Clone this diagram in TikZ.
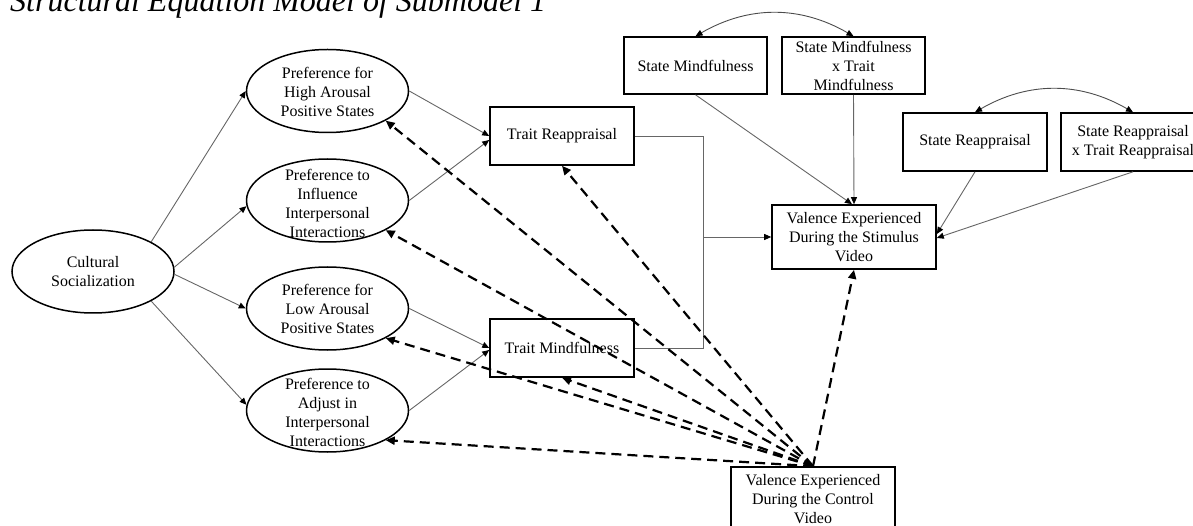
\documentclass[tikz,border=0pt]{standalone}
\usepackage{fontspec}
\setmainfont{Liberation Serif}
\usetikzlibrary{arrows.meta,shapes.geometric,calc}
\begin{document}
\begin{tikzpicture}[x=1pt,y=-1pt,
  txtfont/.style={font=\fontsize{16}{19}\selectfont},
  box/.style={draw, line width=1.6pt, minimum width=144pt, minimum height=58pt, inner sep=0pt, align=center, txtfont},
  ell/.style={draw, ellipse, line width=1.5pt, minimum width=162pt, minimum height=83pt, inner sep=0pt},
  etxt/.style={align=center, inner sep=0pt, txtfont},
  thinline/.style={draw=black!60, line width=0.9pt},
  conn/.style={thinline, -{Triangle[length=7pt,width=6pt,color=black,fill=black]}},
  cov/.style={draw=black!70, line width=0.9pt, {Triangle[length=7pt,width=6pt,color=black,fill=black]}-{Triangle[length=7pt,width=6pt,color=black,fill=black]}},
  dconn/.style={draw=black, line width=2.2pt, dash pattern=on 10pt off 6pt, -{Triangle[length=9pt,width=8pt]}}
]
\useasboundingbox (0,0) rectangle (1193,526);
\clip (0,0) rectangle (1193,526);

% title
\node[anchor=base west, inner sep=0pt, font=\fontsize{32}{38}\selectfont\itshape] (title) at (10,12) {Structural Equation Model of Submodel 1};

% ellipses
\node[ell] (cs) at (93,271.5) {};
\node[etxt] (cst) at (93,272) {Cultural\\Socialization};
\node[ell] (e1) at (327.5,91) {};
\node[etxt] (e1t) at (327.5,92) {Preference for\\High Arousal\\Positive States};
\node[ell] (e2) at (327.5,200.5) {};
\node[etxt] (e2t) at (327.5,203) {Preference to\\Influence\\Interpersonal\\Interactions};
\node[ell] (e3) at (327.5,308.5) {};
\node[etxt] (e3t) at (327.5,309) {Preference for\\Low Arousal\\Positive States};
\node[ell] (e4) at (327.5,410.5) {};
\node[etxt] (e4t) at (327.5,412) {Preference to\\Adjust in\\Interpersonal\\Interactions};

% boxes
\node[box] (tr) at (562,136) {Trait Reappraisal};
\node[box] (tm) at (562,348) {Trait Mindfulness};
\node[box, minimum width=143pt, minimum height=57pt] (sm) at (695.5,65.5) {State Mindfulness};
\node[box, minimum width=143pt, minimum height=57pt] (smx) at (853.5,65.5) {State Mindfulness\\x Trait\\Mindfulness};
\node[box] (sr) at (975,142) {State Reappraisal};
\node[box] (srx) at (1133,142) {State Reappraisal\\x Trait Reappraisal};
\node[box, minimum width=164pt, minimum height=64pt] (vs) at (854,237) {Valence Experienced\\During the Stimulus\\Video};
\node[box, minimum width=164pt, minimum height=64pt] (vc) at (813,499) {Valence Experienced\\During the Control\\Video};

% cultural socialization paths
\draw[conn] (cs.27) -- (e1.west);
\draw[conn] (cs.3) -- (e2.184);
\draw[conn] (cs.-2) -- (e3.west);
\draw[conn] (cs.-27) -- (e4.176);

% ellipse to trait
\draw[conn] (e1.east) -- (tr.west);
\draw[conn] (e2.east) -- ([yshift=-4pt]tr.west);
\draw[conn] (e3.east) -- (tm.west);
\draw[conn] (e4.east) -- ([yshift=-2pt]tm.west);

% trait bracket to stimulus valence
\coordinate (j) at (703,237);
\draw[thinline] (tr.east) -| (j) |- (tm.east);
\draw[conn] (j) -- (vs.west);

% state paths
\draw[conn] (sm.south) -- ([xshift=-2pt]vs.north);
\draw[conn] (smx.south) -- (vs.north);
\draw[conn] (sr.south) -- ([yshift=3pt]vs.east);
\draw[conn] (srx.south) -- ([yshift=-1pt]vs.east);

% covariances
\draw[cov] (sm.north) to[bend left=30] (smx.north);
\draw[cov] (sr.north) to[bend left=30] (srx.north);

% control video paths
\draw[dconn] (vc.north) -- (e1.-27);
\draw[dconn] (vc.north) -- (e2.-27);
\draw[dconn] (vc.north) -- (e3.-27);
\draw[dconn] (vc.north) -- (e4.-27);
\draw[dconn] (vc.north) -- (tr.south);
\draw[dconn] (vc.north) -- (tm.south);
\draw[dconn] (vc.north) -- (vs.south);
\end{tikzpicture}
\end{document}
